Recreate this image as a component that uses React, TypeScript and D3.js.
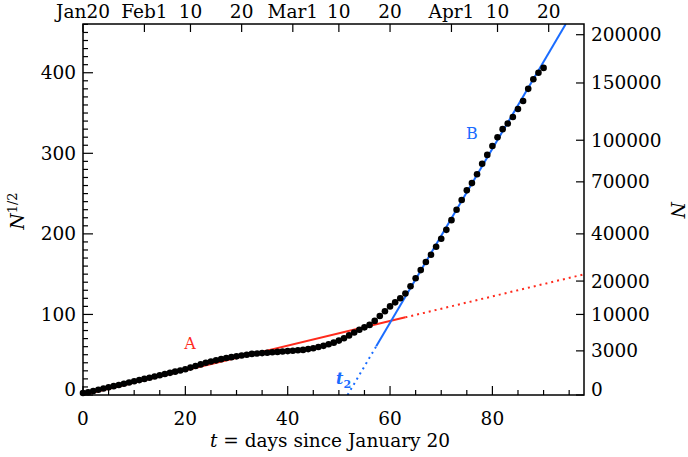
import React from "react";
import * as d3 from "d3";

// N^{1/2} per day since Jan 20 (day index = position)
const sqrtN: number[] = [
  2.5, 3.5, 5, 6.5, 8, 9.5, 11, 12.5, 14, 15.5,
  17, 18.5, 20, 21.5, 23, 24.5, 26, 27.5, 29, 30.5,
  32, 34, 36, 38, 40, 41.5, 43, 44.5, 46, 47,
  48, 49, 50, 51, 51.5, 52, 52.5, 53, 53.5, 54,
  54.5, 55, 55.5, 56, 57, 58, 59.5, 61, 63, 65,
  67.5, 70.5, 74, 77.5, 81, 84, 87, 92, 98, 104,
  110, 115, 120, 126, 135, 145, 155, 165, 174, 184,
  194, 205, 217, 230, 242, 254, 263, 274, 287, 298,
  309, 320, 330, 337, 345, 355, 365, 380, 392, 400,
  406,
];

const bottomTicks = [0, 20, 40, 60, 80];
const leftTicks = [0, 100, 200, 300, 400];
const rightTicks = [0, 3000, 10000, 20000, 40000, 70000, 100000, 150000, 200000];
const topDays = [0, 12, 21, 31, 41, 50, 60, 72, 81, 91];
const topLabels = ["Jan20", "Feb1", "10", "20", "Mar1", "10", "20", "Apr1", "10", "20"];

const fitASlope = 1.53;
const fitAEndSolid = 63;
const fitBt2 = 51.7;
const fitBSlope = 10.8;
const fitBStartSolid = 57.3;

const W = 688, H = 457;
const M = { left: 83, right: 584, top: 24, bottom: 395 };
const RED = "#ff2a1c";
const BLUE = "#1a6cff";
const FONT = "'DejaVu Serif', serif";

export default function App() {
  const x = d3.scaleLinear().domain([0, 97.9]).range([M.left, M.right]);
  const y = d3.scaleLinear().domain([0, 460.5]).range([M.bottom, M.top]);
  const line = d3.line<[number, number]>().x((d) => x(d[0])).y((d) => y(d[1]));

  const xMax = 97.9, yMax = 460.5;
  const redSolid: [number, number][] = [[0, 0], [fitAEndSolid, fitASlope * fitAEndSolid]];
  const redDot: [number, number][] = [[fitAEndSolid, fitASlope * fitAEndSolid], [xMax, fitASlope * xMax]];
  const bAt = (t: number) => (t - fitBt2) * fitBSlope;
  const bTop = fitBt2 + yMax / fitBSlope;
  const blueDot: [number, number][] = [[fitBt2, 0], [fitBStartSolid, bAt(fitBStartSolid)]];
  const blueSolid: [number, number][] = [[fitBStartSolid, bAt(fitBStartSolid)], [bTop, bAt(bTop)]];

  const minorX = d3.range(0, 98, 5);
  const minorY = d3.range(0, 461, 10);

  return (
    <svg width={W} height={H} style={{ position: "absolute", left: 0, top: 0, background: "#fff" }}
      fontFamily={FONT}>
      <rect x={0} y={0} width={W} height={H} fill="#fff" />
      <defs>
        <clipPath id="plot">
          <rect x={M.left} y={M.top} width={M.right - M.left} height={M.bottom - M.top} />
        </clipPath>
      </defs>

      {/* fit lines */}
      <g clipPath="url(#plot)" fill="none" strokeWidth={2}>
        <path d={line(redSolid)!} stroke={RED} />
        <path d={line(redDot)!} stroke={RED} strokeDasharray="2,4" />
        <path d={line(blueDot)!} stroke={BLUE} strokeDasharray="2,4" />
        <path d={line(blueSolid)!} stroke={BLUE} />
      </g>

      {/* data */}
      <g fill="#000">
        {sqrtN.map((v, i) => (
          <circle key={i} cx={x(i)} cy={y(v)} r={3.3} />
        ))}
      </g>

      {/* frame */}
      <rect x={M.left} y={M.top} width={M.right - M.left} height={M.bottom - M.top}
        fill="none" stroke="#000" strokeWidth={1.5} />

      {/* bottom ticks */}
      <g stroke="#000" strokeWidth={1.2}>
        {minorX.map((t) => (
          <line key={"mx" + t} x1={x(t)} x2={x(t)} y1={M.bottom} y2={M.bottom - (t % 20 === 0 ? 9 : 5)} />
        ))}
        {minorY.map((v) => (
          <line key={"my" + v} x1={M.left} x2={M.left + (v % 100 === 0 ? 10 : 5)} y1={y(v)} y2={y(v)} />
        ))}
        {topDays.map((d, i) => (
          <line key={"td" + i} x1={x(d)} x2={x(d)} y1={M.top} y2={M.top + 8} />
        ))}
        {rightTicks.map((n) => (
          <line key={"rt" + n} x1={M.right} x2={M.right - 8} y1={y(Math.sqrt(n))} y2={y(Math.sqrt(n))} />
        ))}
      </g>

      {/* tick labels */}
      <g fontSize={18.5} fill="#000">
        {bottomTicks.map((t) => (
          <text key={"bl" + t} x={x(t)} y={425} textAnchor="middle">{t}</text>
        ))}
        {leftTicks.map((v) => (
          <text key={"ll" + v} x={76} y={Math.min(y(v), 389) + 6.5} textAnchor="end">{v}</text>
        ))}
        {topDays.map((d, i) => (
          <text key={"tl" + i} x={x(d)} y={18} textAnchor="middle">{topLabels[i]}</text>
        ))}
        {rightTicks.map((n) => (
          <text key={"rl" + n} x={591} y={Math.min(y(Math.sqrt(n)), 389) + 6.5} textAnchor="start">{n}</text>
        ))}
      </g>

      {/* axis titles */}
      <text x={330} y={447} fontSize={18.5} textAnchor="middle">
        <tspan fontStyle="italic">t</tspan> = days since January 20
      </text>
      <text transform="translate(24,211) rotate(-90)" fontSize={18.5} textAnchor="middle">
        <tspan fontStyle="italic">N</tspan>
        <tspan fontSize={13} dy={-7}>1/2</tspan>
      </text>
      <text transform="translate(671,210) rotate(90)" fontSize={18.5} textAnchor="middle" fontStyle="italic">N</text>

      {/* annotations */}
      <text x={190} y={349} fontSize={16} fill={RED} textAnchor="middle">A</text>
      <text x={472} y={139} fontSize={16} fill={BLUE} textAnchor="middle">B</text>
      <text x={336} y={384} fontSize={16} fill={BLUE} fontStyle="italic" fontWeight="bold">
        t<tspan fontSize={11} dy={4} fontStyle="normal">2</tspan>
      </text>
    </svg>
  );
}
